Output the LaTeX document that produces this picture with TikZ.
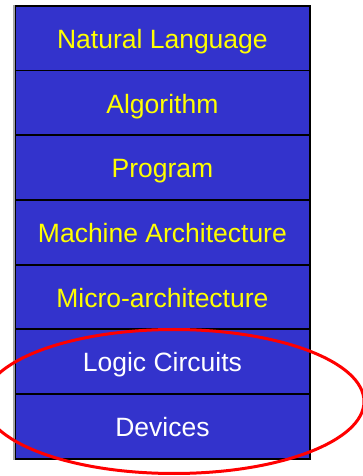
\documentclass[tikz,border=0pt]{standalone}
\usepackage{fontspec}
\setmainfont{Liberation Sans}
\definecolor{layerblue}{HTML}{3333CC}
\definecolor{layeryellow}{HTML}{FFFF00}
\definecolor{ringred}{HTML}{FF0000}
\begin{document}
\begin{tikzpicture}[x=1pt,y=1pt,
  layer/.style={draw=black, line width=1.8pt, fill=layerblue, inner sep=0pt,
    minimum width=295pt, minimum height=64.7pt, anchor=north west},
  label/.style={anchor=base, inner sep=0pt, font=\fontsize{26.5}{30}\selectfont},
  high/.style={label, text=layeryellow},
  low/.style={label, text=white}]
\useasboundingbox (0,0) rectangle (363,476);
\clip (0,0) rectangle (363,476);
% stack of abstraction layers, top to bottom (row top y = 476 - 5 - k*64.7)
\node[layer] (nl)  at (14,471.0) {};
\node[layer] (alg) at (14,406.3) {};
\node[layer] (prg) at (14,341.6) {};
\node[layer] (isa) at (14,276.9) {};
\node[layer] (uar) at (14,212.2) {};
\node[layer] (lc)  at (14,147.5) {};
\node[layer] (dev) at (14,82.8) {};
% left edge appears lighter
\draw[gray!70, line width=1.5pt] (nl.north west) -- (dev.south west);
% layer names, baseline 43.5 below each row top
\node[high] (tnl)  at ([yshift=-43.5pt]nl.north)  {Natural Language};
\node[high] (talg) at ([yshift=-43.5pt]alg.north) {Algorithm};
\node[high] (tprg) at ([yshift=-43.5pt]prg.north) {Program};
\node[high] (tisa) at ([yshift=-43.5pt]isa.north) {Machine Architecture};
\node[high] (tuar) at ([yshift=-43.5pt]uar.north) {Micro-architecture};
\node[low]  (tlc)  at ([yshift=-43.5pt]lc.north)  {Logic Circuits};
\node[low]  (tdev) at ([yshift=-43.5pt]dev.north) {Devices};
% red ring around the two lowest layers
\draw[ringred, line width=3pt] (174,74.5) ellipse [x radius=190, y radius=72];
\end{tikzpicture}
\end{document}
